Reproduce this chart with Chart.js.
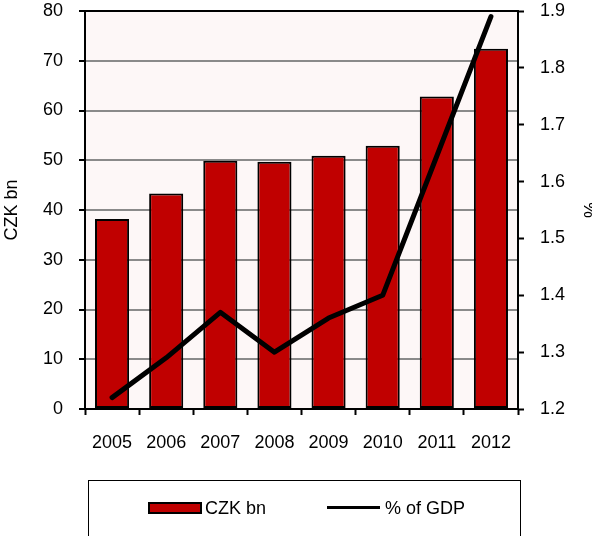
<!DOCTYPE html>
<html>
<head>
<meta charset="utf-8">
<script src="https://cdn.jsdelivr.net/npm/chart.js@4/dist/chart.umd.min.js"></script>
<style>
  html, body { margin: 0; padding: 0; background: #ffffff; }
  #wrap { width: 592px; height: 536px; position: relative; }
</style>
</head>
<body>
<div id="wrap"><canvas id="c" width="592" height="536"></canvas></div>
<script>
const years = ['2005', '2006', '2007', '2008', '2009', '2010', '2011', '2012'];
const czkBn = [38.2, 43.3, 49.9, 49.7, 50.9, 52.9, 62.8, 72.4];
const pctGdp = [1.22, 1.29, 1.37, 1.30, 1.36, 1.40, 1.645, 1.89];
const leftTicks = [0, 10, 20, 30, 40, 50, 60, 70, 80];
const rightTicks = [1.2, 1.3, 1.4, 1.5, 1.6, 1.7, 1.8, 1.9];
const seriesNames = ['CZK bn', '% of GDP'];
const axisTitles = { left: 'CZK bn', right: '%' };

const FONT = "'Liberation Sans', Arial, sans-serif";
const FS = 18;

function zeroPad(s) {
  s.paddingTop = 0; s.paddingBottom = 0; s.paddingLeft = 0; s.paddingRight = 0;
}

const frameAndBg = {
  id: 'frameAndBg',
  beforeDraw(chart) {
    const { ctx, chartArea: a } = chart;
    ctx.save();
    ctx.fillStyle = '#fdf7f7';
    ctx.fillRect(a.left, a.top, a.right - a.left, a.bottom - a.top);
    ctx.restore();
  },
  afterDatasetsDraw(chart) {
    const { ctx, chartArea: a } = chart;
    ctx.save();
    ctx.strokeStyle = '#000';
    ctx.lineWidth = 2;
    ctx.beginPath();
    ctx.moveTo(a.left - 1, a.top);
    ctx.lineTo(a.right + 1, a.top);
    ctx.stroke();
    ctx.restore();
  },
  afterDraw(chart) {
    const ctx = chart.ctx;
    const ds = chart.data.datasets;
    ctx.save();
    ctx.strokeStyle = '#000';
    ctx.lineWidth = 1;
    ctx.strokeRect(88.5, 480.5, 432, 70);
    ctx.font = FS + 'px ' + FONT;
    ctx.textBaseline = 'middle';
    ctx.textAlign = 'left';
    ctx.fillStyle = ds[0].backgroundColor;
    ctx.fillRect(149, 503, 52, 10);
    ctx.strokeStyle = '#000';
    ctx.lineWidth = 2;
    ctx.strokeRect(149, 503, 52, 10);
    ctx.fillStyle = '#000';
    ctx.fillText(ds[0].label, 205, 509);
    ctx.strokeStyle = ds[1].borderColor;
    ctx.lineWidth = 3;
    ctx.beginPath();
    ctx.moveTo(327, 507.5);
    ctx.lineTo(380, 507.5);
    ctx.stroke();
    ctx.fillText(ds[1].label, 385, 509);
    ctx.restore();
  }
};

new Chart(document.getElementById('c'), {
  type: 'bar',
  data: {
    labels: years,
    datasets: [
      {
        type: 'bar',
        label: seriesNames[0],
        data: czkBn,
        yAxisID: 'y',
        backgroundColor: '#c00000',
        borderColor: '#000000',
        borderWidth: 2,
        borderSkipped: false,
        barPercentage: 0.63,
        categoryPercentage: 1.0,
        order: 2
      },
      {
        type: 'line',
        label: seriesNames[1],
        data: pctGdp,
        yAxisID: 'y2',
        borderColor: '#000000',
        backgroundColor: '#000000',
        borderWidth: 5,
        pointRadius: 0,
        borderCapStyle: 'round',
        borderJoinStyle: 'round',
        tension: 0,
        fill: false,
        order: 1
      }
    ]
  },
  options: {
    responsive: false,
    animation: false,
    devicePixelRatio: 1,
    layout: { padding: { top: 11, left: 0, right: 0, bottom: 0 } },
    plugins: { legend: { display: false }, tooltip: { enabled: false } },
    scales: {
      x: {
        type: 'category',
        offset: true,
        grid: {
          display: true,
          offset: true,
          drawOnChartArea: false,
          drawTicks: true,
          tickLength: 6,
          tickColor: '#000',
          tickWidth: 2,
          color: '#000'
        },
        border: { display: true, color: '#000', width: 2 },
        ticks: {
          color: '#000',
          font: { family: FONT, size: FS },
          padding: 17,
          maxRotation: 0,
          autoSkip: false
        },
        afterFit(s) { s.height = 127; zeroPad(s); }
      },
      y: {
        position: 'left',
        min: leftTicks[0],
        max: leftTicks[leftTicks.length - 1],
        afterBuildTicks(s) { s.ticks = leftTicks.map(v => ({ value: v })); },
        grid: {
          color: '#8a8a8a',
          lineWidth: 2,
          drawTicks: true,
          tickLength: 6,
          tickColor: '#000',
          tickWidth: 2
        },
        border: { display: true, color: '#000', width: 2 },
        ticks: {
          color: '#000',
          font: { family: FONT, size: FS },
          padding: 16,
          callback: v => String(v)
        },
        title: {
          display: true,
          text: axisTitles.left,
          color: '#000',
          font: { family: FONT, size: FS },
          padding: { top: 1, bottom: 0 }
        },
        afterFit(s) { s.width = 85; zeroPad(s); }
      },
      y2: {
        position: 'right',
        min: rightTicks[0],
        max: rightTicks[rightTicks.length - 1],
        afterBuildTicks(s) { s.ticks = rightTicks.map(v => ({ value: v })); },
        grid: {
          drawOnChartArea: false,
          drawTicks: true,
          tickLength: 6,
          tickColor: '#000',
          tickWidth: 2,
          color: '#000'
        },
        border: { display: true, color: '#000', width: 2 },
        ticks: {
          color: '#000',
          font: { family: FONT, size: FS },
          padding: 16,
          callback: v => Number(v).toFixed(1)
        },
        title: {
          display: true,
          text: axisTitles.right,
          color: '#000',
          font: { family: FONT, size: FS },
          padding: { top: -8, bottom: 0 }
        },
        afterFit(s) { s.width = 74; zeroPad(s); }
      }
    }
  },
  plugins: [frameAndBg]
});
</script>
</body>
</html>
